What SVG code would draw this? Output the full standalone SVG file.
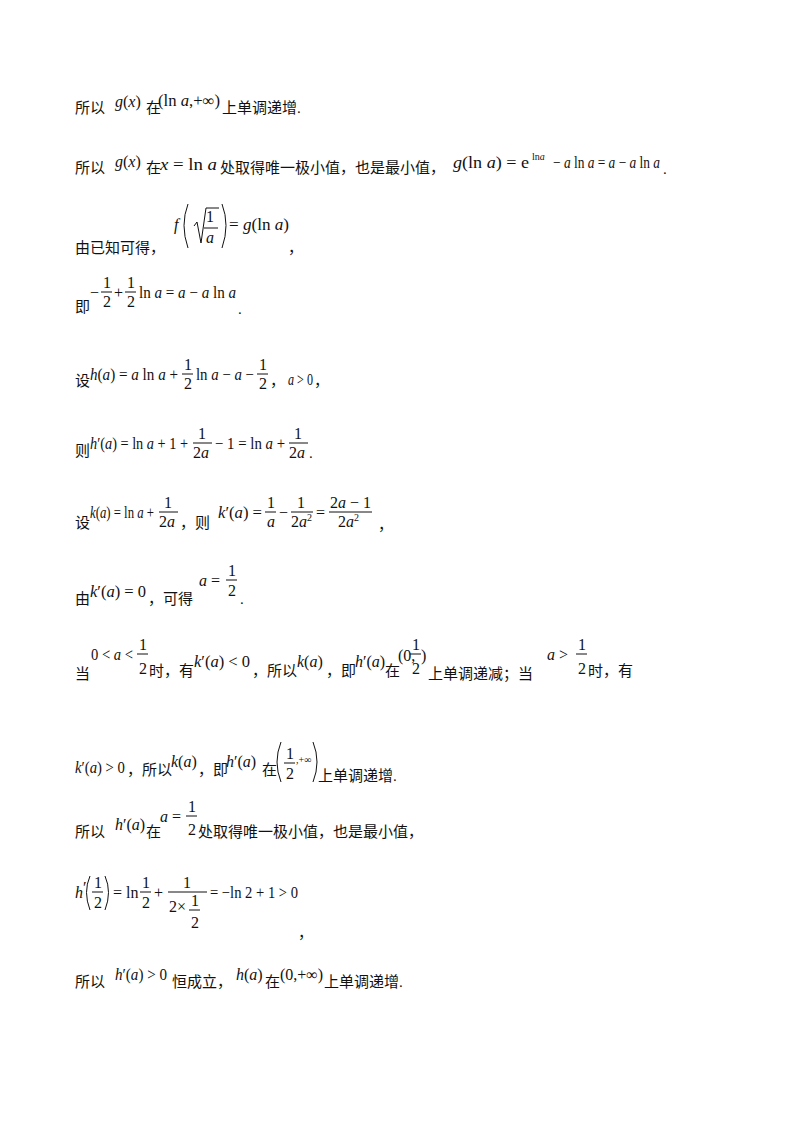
<svg xmlns="http://www.w3.org/2000/svg" width="800" height="1132" viewBox="0 0 800 1132">
<style>
text{font-family:"Liberation Serif","Times New Roman","DejaVu Serif","Noto Sans CJK SC",serif;font-size:15px;fill:#111}
.m{font-size:16px}
.i{font-style:italic}
.s{font-size:10px}
line{stroke:#111;stroke-width:1}
path{stroke:#111;stroke-width:1;fill:none}
</style>
<rect width="800" height="1132" fill="#fff"/>
<g id="l1">
<text x="75" y="113">所以</text>
<text class="m" x="115" y="107"><tspan class="i">g</tspan>(<tspan class="i">x</tspan>)</text>
<text x="146" y="113">在</text>
<text class="m" x="158" y="106" textLength="62" lengthAdjust="spacingAndGlyphs">(ln <tspan class="i">a</tspan>,+∞)</text>
<text x="222" y="113">上单调递增.</text>
</g>
<g id="l2">
<text x="75" y="173">所以</text>
<text class="m" x="115" y="167"><tspan class="i">g</tspan>(<tspan class="i">x</tspan>)</text>
<text x="146" y="173">在</text>
<text class="m" x="160" y="170" textLength="57" lengthAdjust="spacingAndGlyphs"><tspan class="i">x</tspan> = ln <tspan class="i">a</tspan></text>
<text x="220" y="173">处取得唯一极小值，也是最小值，</text>
<text class="m" x="453" y="168" textLength="76" lengthAdjust="spacingAndGlyphs"><tspan class="i">g</tspan>(ln <tspan class="i">a</tspan>) = e</text>
<text class="s" x="532" y="160">ln<tspan class="i">a</tspan></text>
<text class="m" x="553" y="168" textLength="107" lengthAdjust="spacingAndGlyphs">− <tspan class="i">a</tspan> ln <tspan class="i">a</tspan> = <tspan class="i">a</tspan> − <tspan class="i">a</tspan> ln <tspan class="i">a</tspan></text>
<text x="663" y="174">.</text>
</g>
<g id="l3">
<text x="75" y="253">由已知可得，</text>
<text class="m i" x="174" y="230">f</text>
<path d="M188,204 Q180,225 188,248"/>
<path d="M194,226 L197,222 L201,243 L206,208 L219,208"/>
<text class="m" x="206" y="222">1</text>
<line x1="204" y1="228" x2="218" y2="228"/>
<text class="m i" x="206" y="243">a</text>
<path d="M222,204 Q230,225 222,248"/>
<text class="m" x="229" y="230" textLength="60" lengthAdjust="spacingAndGlyphs">= <tspan class="i">g</tspan>(ln <tspan class="i">a</tspan>)</text>
<text x="288" y="253">，</text>
</g>
<g id="l4">
<text x="75" y="312">即</text>
<text class="m" x="90" y="298">−</text>
<text class="m" x="103" y="288">1</text><line x1="101" y1="292" x2="112" y2="292"/><text class="m" x="103" y="307">2</text>
<text class="m" x="114" y="298">+</text>
<text class="m" x="127" y="288">1</text><line x1="125" y1="292" x2="136" y2="292"/><text class="m" x="127" y="307">2</text>
<text class="m" x="139" y="298" textLength="97" lengthAdjust="spacingAndGlyphs">ln <tspan class="i">a</tspan> = <tspan class="i">a</tspan> − <tspan class="i">a</tspan> ln <tspan class="i">a</tspan></text>
<text x="238" y="314">.</text>
</g>
<g id="l5">
<text x="75" y="386">设</text>
<text class="m" x="90" y="380" textLength="88" lengthAdjust="spacingAndGlyphs"><tspan class="i">h</tspan>(<tspan class="i">a</tspan>) = <tspan class="i">a</tspan> ln <tspan class="i">a</tspan> +</text>
<text class="m" x="184" y="370">1</text><line x1="182" y1="374" x2="193" y2="374"/><text class="m" x="184" y="389">2</text>
<text class="m" x="196" y="380" textLength="58" lengthAdjust="spacingAndGlyphs">ln <tspan class="i">a</tspan> − <tspan class="i">a</tspan> −</text>
<text class="m" x="259" y="370">1</text><line x1="257" y1="374" x2="268" y2="374"/><text class="m" x="259" y="389">2</text>
<text x="270" y="386">，</text>
<text class="m" x="288" y="385" textLength="25" lengthAdjust="spacingAndGlyphs"><tspan class="i">a</tspan> &gt; 0</text>
<text x="314" y="386">，</text>
</g>
<g id="l6">
<text x="75" y="456">则</text>
<text class="m" x="90" y="449" textLength="98" lengthAdjust="spacingAndGlyphs"><tspan class="i">h</tspan>′(<tspan class="i">a</tspan>) = ln <tspan class="i">a</tspan> + 1 +</text>
<text class="m" x="198" y="439">1</text><line x1="193" y1="443" x2="212" y2="443"/><text class="m" x="193" y="458">2<tspan class="i">a</tspan></text>
<text class="m" x="215" y="449" textLength="70" lengthAdjust="spacingAndGlyphs">− 1 = ln <tspan class="i">a</tspan> +</text>
<text class="m" x="294" y="439">1</text><line x1="289" y1="443" x2="308" y2="443"/><text class="m" x="289" y="458">2<tspan class="i">a</tspan></text>
<text x="309" y="458">.</text>
</g>
<g id="l7">
<text x="75" y="528">设</text>
<text class="m" x="90" y="518" textLength="64" lengthAdjust="spacingAndGlyphs"><tspan class="i">k</tspan>(<tspan class="i">a</tspan>) = ln <tspan class="i">a</tspan> +</text>
<text class="m" x="164" y="508">1</text><line x1="159" y1="512" x2="178" y2="512"/><text class="m" x="159" y="527">2<tspan class="i">a</tspan></text>
<text x="180" y="528">，则</text>
<text class="m" x="218" y="518" textLength="44" lengthAdjust="spacingAndGlyphs"><tspan class="i">k</tspan>′(<tspan class="i">a</tspan>) =</text>
<text class="m" x="267" y="508">1</text><line x1="265" y1="512" x2="276" y2="512"/><text class="m i" x="267" y="527">a</text>
<text class="m" x="279" y="518">−</text>
<text class="m" x="297" y="508">1</text><line x1="291" y1="512" x2="313" y2="512"/><text class="m" x="291" y="527">2<tspan class="i">a</tspan><tspan class="s" dy="-6">2</tspan></text>
<text class="m" x="316" y="518">=</text>
<text class="m" x="330" y="508">2<tspan class="i">a</tspan> − 1</text><line x1="329" y1="512" x2="372" y2="512"/><text class="m" x="338" y="527">2<tspan class="i">a</tspan><tspan class="s" dy="-6">2</tspan></text>
<text x="378" y="530">，</text>
</g>
<g id="l8">
<text x="75" y="604">由</text>
<text class="m" x="90" y="597" textLength="56" lengthAdjust="spacingAndGlyphs"><tspan class="i">k</tspan>′(<tspan class="i">a</tspan>) = 0</text>
<text x="148" y="604">，可得</text>
<text class="m" x="199" y="586"><tspan class="i">a</tspan> =</text>
<text class="m" x="228" y="576">1</text><line x1="226" y1="580" x2="237" y2="580"/><text class="m" x="228" y="596">2</text>
<text x="240" y="604">.</text>
</g>
<g id="l9">
<text x="75" y="679">当</text>
<text class="m" x="91" y="660" textLength="42" lengthAdjust="spacingAndGlyphs">0 &lt; <tspan class="i">a</tspan> &lt;</text>
<text class="m" x="139" y="650">1</text><line x1="137" y1="654" x2="148" y2="654"/><text class="m" x="139" y="674">2</text>
<text x="149" y="676">时，有</text>
<text class="m" x="194" y="667" textLength="56" lengthAdjust="spacingAndGlyphs"><tspan class="i">k</tspan>′(<tspan class="i">a</tspan>) &lt; 0</text>
<text x="252" y="676">，所以</text>
<text class="m" x="297" y="667"><tspan class="i">k</tspan>(<tspan class="i">a</tspan>)</text>
<text x="326" y="676">，即</text>
<text class="m" x="355" y="667"><tspan class="i">h</tspan>′(<tspan class="i">a</tspan>)</text>
<text x="385" y="676">在</text>
<text class="m" x="398" y="661">(0,</text>
<text class="m" x="412" y="650">1</text><line x1="410" y1="654" x2="421" y2="654"/><text class="m" x="412" y="674">2</text>
<text class="m" x="421" y="661">)</text>
<text x="428" y="679">上单调递减；当</text>
<text class="m" x="547" y="660"><tspan class="i">a</tspan> &gt;</text>
<text class="m" x="578" y="650">1</text><line x1="576" y1="654" x2="587" y2="654"/><text class="m" x="578" y="674">2</text>
<text x="588" y="676">时，有</text>
</g>
<g id="l10">
<text class="m" x="75" y="773" textLength="50" lengthAdjust="spacingAndGlyphs"><tspan class="i">k</tspan>′(<tspan class="i">a</tspan>) &gt; 0</text>
<text x="127" y="775">，所以</text>
<text class="m" x="171" y="767"><tspan class="i">k</tspan>(<tspan class="i">a</tspan>)</text>
<text x="198" y="775">，即</text>
<text class="m" x="226" y="767"><tspan class="i">h</tspan>′(<tspan class="i">a</tspan>)</text>
<text x="262" y="775">在</text>
<path d="M281,742 Q273,762 281,782"/>
<text class="m" x="286" y="759">1</text><line x1="284" y1="763" x2="295" y2="763"/><text class="m" x="286" y="779">2</text>
<text class="s" x="296" y="763">,+∞</text>
<path d="M313,742 Q321,762 313,782"/>
<text x="318" y="781">上单调递增.</text>
</g>
<g id="l11">
<text x="75" y="837">所以</text>
<text class="m" x="115" y="830"><tspan class="i">h</tspan>′(<tspan class="i">a</tspan>)</text>
<text x="146" y="837">在</text>
<text class="m" x="160" y="822"><tspan class="i">a</tspan> =</text>
<text class="m" x="188" y="812">1</text><line x1="186" y1="816" x2="197" y2="816"/><text class="m" x="188" y="835">2</text>
<text x="198" y="837">处取得唯一极小值，也是最小值，</text>
</g>
<g id="l12">
<text class="m i" x="75" y="898">h</text><text class="m" x="83" y="893">′</text>
<path d="M90,876 Q83,892 90,910"/>
<text class="m" x="94" y="888">1</text><line x1="92" y1="892" x2="103" y2="892"/><text class="m" x="94" y="908">2</text>
<path d="M105,876 Q112,892 105,910"/>
<text class="m" x="113" y="898">= ln</text>
<text class="m" x="142" y="888">1</text><line x1="140" y1="892" x2="151" y2="892"/><text class="m" x="142" y="908">2</text>
<text class="m" x="154" y="898">+</text>
<text class="m" x="183" y="888">1</text><line x1="168" y1="892" x2="207" y2="892"/>
<text class="m" x="169" y="912">2×</text>
<text class="m" x="191" y="906">1</text><line x1="189" y1="910" x2="200" y2="910"/><text class="m" x="191" y="928">2</text>
<text class="m" x="210" y="898" textLength="88" lengthAdjust="spacingAndGlyphs">= −ln 2 + 1 &gt; 0</text>
<text x="298" y="938">，</text>
</g>
<g id="l13">
<text x="75" y="987">所以</text>
<text class="m" x="115" y="980" textLength="52" lengthAdjust="spacingAndGlyphs"><tspan class="i">h</tspan>′(<tspan class="i">a</tspan>) &gt; 0</text>
<text x="172" y="987">恒成立，</text>
<text class="m" x="236" y="980"><tspan class="i">h</tspan>(<tspan class="i">a</tspan>)</text>
<text x="265" y="987">在</text>
<text class="m" x="280" y="980">(0,+∞)</text>
<text x="324" y="987">上单调递增.</text>
</g>
</svg>
